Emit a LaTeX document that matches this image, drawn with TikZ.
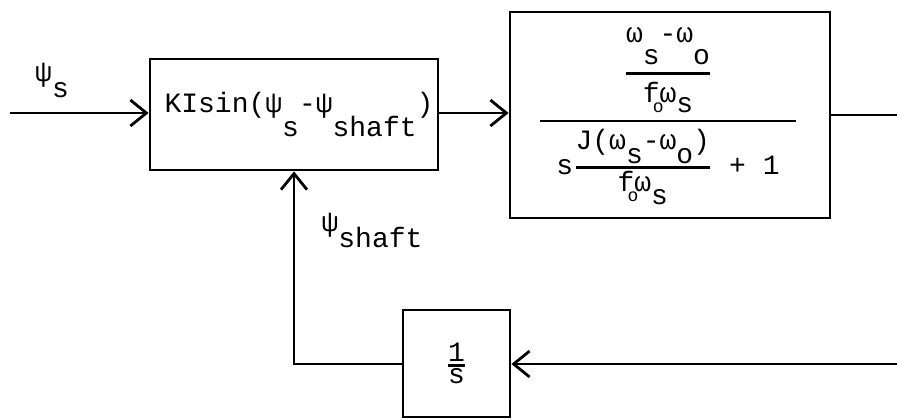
\documentclass[tikz,border=0pt]{standalone}
\usepackage{amsmath}
\usepackage{fontspec}
\setmainfont{Liberation Mono}
\usetikzlibrary{positioning,arrows.meta}
% lowered typewriter subscript
\newcommand{\sbs}[2][8pt]{\raisebox{-#1}{#2}}
\newcommand{\fo}{f\llap{\raisebox{-5pt}{\fontsize{9}{9}\selectfont o}\kern-2pt}}
\newcommand{\barfrac}[3][0]{\genfrac{}{}{1.2pt}{#1}{\mbox{#2}}{\mbox{#3}}}

\begin{document}
\begin{tikzpicture}[
        x=0.5pt, y=-0.5pt,
        font=\fontsize{14}{16}\selectfont,
        blk/.style={draw, line width=1.4pt, inner sep=0pt},
        sig/.style={line width=1.4pt, -{Straight Barb[length=8pt, width=13pt, line width=1.4pt]}},
        line/.style={line width=1.4pt}
    ]
        \useasboundingbox (0,0) rectangle (897,419);

        \node[blk, minimum width=144pt, minimum height=55.5pt] (sin) at (294,114.5)
            {\hspace{5pt}KIsin(ψ\sbs[12pt]{s}-ψ\sbs[12pt]{shaft})};
        \node[blk, minimum width=160pt, minimum height=103pt] (plant) at (670,115) {};
        % transfer function, baseline 3.5pt under the main bar
        \node[inner sep=0pt, anchor=base] (tf) at (668,128)
            {$\barfrac{$\barfrac{ω\sbs[11pt]{s}-ω\sbs[11pt]{o}}{\fo ω\sbs[5pt]{s}}$}%
                      {\hspace{8pt}s$\barfrac[1]{J(ω\sbs[7pt]{s}-ω\sbs[7pt]{o})}{\fo ω\sbs[6.5pt]{s}}$ + 1\hspace{8pt}}$};
        \node[blk, minimum width=53.5pt, minimum height=53.5pt] (integ) at (456.5,363.5)
            {$\barfrac[1]{1}{s}$};

        \node (psis) at (52,80) {ψ\sbs{s}};
        \node (psishaft) at (372,230) {ψ\sbs{shaft}};

        \coordinate (in) at (10,113);
        \coordinate (out) at (897,115);
        \coordinate (fb) at (897,364);

        \draw[sig] (in) -- (in -| sin.west);
        \draw[sig] (sin.east |- in) -- (plant.west |- in);
        \draw[line] (plant.east |- out) -- (out);
        \draw[sig] (fb) -- (integ.east |- fb);
        \draw[sig] (integ.west |- fb) -| (sin.south);
    \end{tikzpicture}
\end{document}
